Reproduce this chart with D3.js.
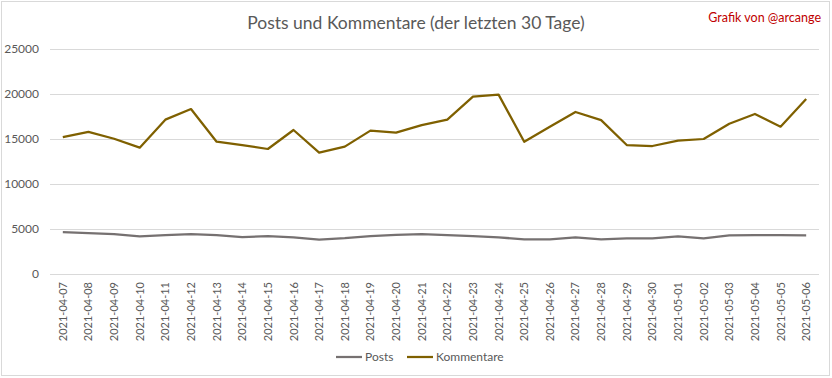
<!DOCTYPE html>
<html>
<head>
<meta charset="utf-8">
<script src="https://cdn.jsdelivr.net/npm/d3@7/dist/d3.min.js"></script>
<style>
	body { margin: 0; background: #fff; }
	text { font-family: Lato, "Open Sans", sans-serif; fill: #595959; }
</style>
</head>
<body>
<div id="chart"></div>
<script>

// data
const days = ["2021-04-07","2021-04-08","2021-04-09","2021-04-10","2021-04-11","2021-04-12","2021-04-13","2021-04-14","2021-04-15","2021-04-16",
	"2021-04-17","2021-04-18","2021-04-19","2021-04-20","2021-04-21","2021-04-22","2021-04-23","2021-04-24","2021-04-25","2021-04-26",
	"2021-04-27","2021-04-28","2021-04-29","2021-04-30","2021-05-01","2021-05-02","2021-05-03","2021-05-04","2021-05-05","2021-05-06"]
const posts = [4650,4550,4420,4180,4330,4420,4320,4100,4200,4080,
	3830,3980,4210,4340,4430,4330,4200,4070,3850,3850,
	4080,3860,3960,3960,4180,3950,4300,4320,4320,4300]
const kommentare = [15200,15800,15030,14040,17150,18330,14700,14330,13890,16000,
	13480,14150,15930,15700,16550,17150,19700,19930,14700,16370,
	18000,17100,14330,14220,14810,15000,16700,17780,16370,19440]
const yTicks = [0,5000,10000,15000,20000,25000]
const series = [
	{name: "Posts", values: posts, color: "#767171"},
	{name: "Kommentare", values: kommentare, color: "#7f6000"}
]

const width = 832, height = 378
const margin = {top: 49, right: 13, bottom: 104, left: 50}
const plot_w = width - margin.left - margin.right
const plot_h = height - margin.top - margin.bottom

const svg = d3.select("#chart").append("svg")
	.attr("width", width)
	.attr("height", height)

// outer border
svg.append("rect")
	.attr("x", 1.5).attr("y", 1.5)
	.attr("width", width - 4).attr("height", height - 4)
	.attr("fill", "#fff")
	.attr("stroke", "#d9d9d9")

const x = d3.scaleBand()
	.domain(days)
	.range([0, plot_w])

const y = d3.scaleLinear()
	.domain([0, 25000])
	.range([plot_h, 0])

const g = svg.append("g")
	.attr("transform", "translate(" + margin.left + "," + margin.top + ")")

// gridlines
g.append("g")
	.selectAll("line")
	.data(yTicks)
	.enter()
	.append("line")
		.attr("x1", 0).attr("x2", plot_w)
		.attr("y1", d => Math.round(y(d)) + 0.5)
		.attr("y2", d => Math.round(y(d)) + 0.5)
		.attr("stroke", "#d9d9d9")

// y labels
g.append("g")
	.selectAll("text")
	.data(yTicks)
	.enter()
	.append("text")
		.attr("x", -11)
		.attr("y", d => y(d) + 4)
		.attr("text-anchor", "end")
		.style("font-size", "12px")
		.text(d => d)

// x labels
g.append("g")
	.selectAll("text")
	.data(days)
	.enter()
	.append("text")
		.attr("transform", d => "translate(" + (x(d) + x.bandwidth() / 2 + 4) + "," + (plot_h + 8) + ") rotate(-90)")
		.attr("text-anchor", "end")
		.style("font-size", "11px")
		.text(d => d)

// lines
const line = d3.line()
	.x((d, i) => x(days[i]) + x.bandwidth() / 2)
	.y(d => y(d))

g.selectAll(".series")
	.data(series)
	.enter()
	.append("path")
		.attr("class", "series")
		.attr("d", d => line(d.values))
		.attr("fill", "none")
		.attr("stroke", d => d.color)
		.attr("stroke-width", 2.25)
		.attr("stroke-linejoin", "round")

// title
svg.append("text")
	.attr("x", 416)
	.attr("y", 29)
	.attr("text-anchor", "middle")
	.style("font-size", "17.5px")
	.text("Posts und Kommentare (der letzten 30 Tage)")

svg.append("text")
	.attr("x", 821)
	.attr("y", 22)
	.attr("text-anchor", "end")
	.style("font-size", "12.5px")
	.style("fill", "#c00000")
	.text("Grafik von @arcange")

// legend
const legend = svg.append("g")
	.attr("transform", "translate(336,357)")
const leg_x = [0, 71]
legend.selectAll("g")
	.data(series)
	.enter()
	.append("g")
		.attr("transform", (d, i) => "translate(" + leg_x[i] + ",0)")
		.each(function(d) {
			d3.select(this).append("line")
				.attr("x1", 0).attr("x2", 26)
				.attr("stroke", d.color)
				.attr("stroke-width", 2.25)
			d3.select(this).append("text")
				.attr("x", 29)
				.attr("y", 4)
				.style("font-size", "12px")
				.text(d.name)
		})

</script>
</body>
</html>
